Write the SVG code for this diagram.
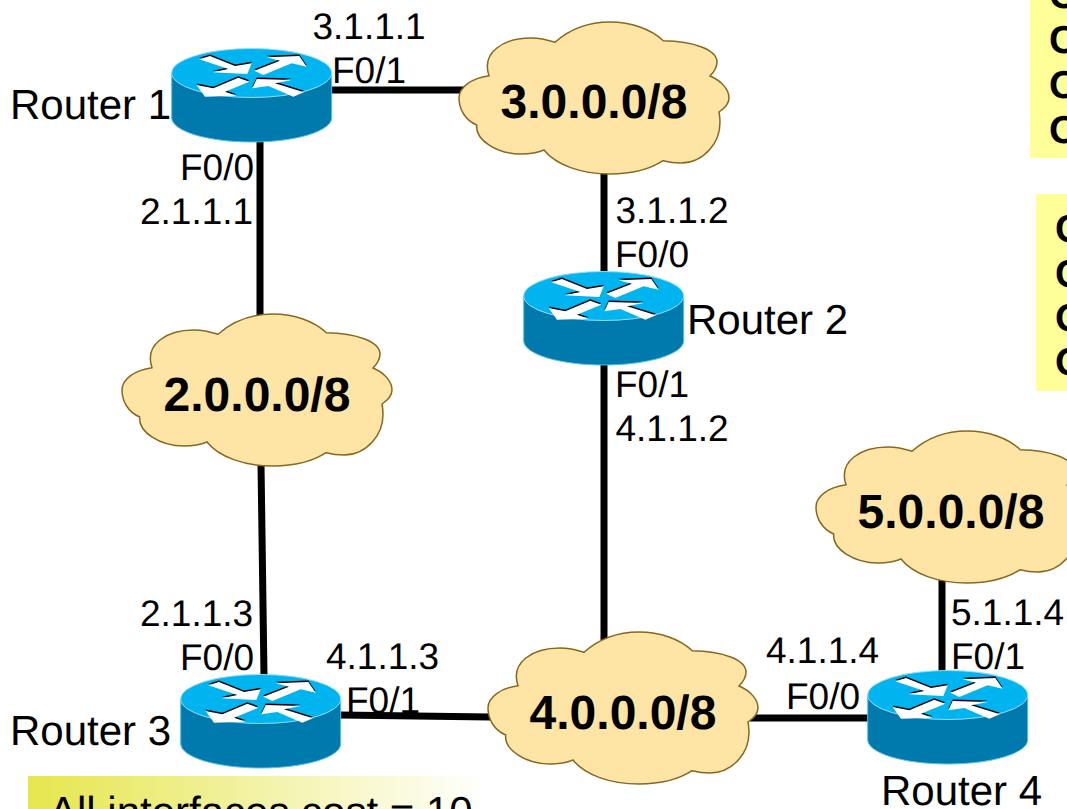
<svg xmlns="http://www.w3.org/2000/svg" width="1067" height="809" viewBox="0 0 1067 809">
<style>
text{font-family:"Liberation Sans",Arial,sans-serif;fill:#000;text-rendering:geometricPrecision}
.s{font-size:37px}
.r{font-size:42px}
.c{font-size:48px;font-weight:bold;text-anchor:middle}
.y{font-size:39px;font-weight:bold}
.l{fill:none;stroke:#000;stroke-width:7}
.cl{fill:#fee5a5;stroke:#86691f;stroke-width:1.5}
</style>
<defs>
<linearGradient id="g"><stop offset="0" stop-color="#e6e64d"/><stop offset="1" stop-color="#fff"/></linearGradient>
<path id="cloud" d="M96,20.3C112,6 132,0 151,0C172,0 192,7 204.3,18.7C235,19 258,28 258,40C258,46 255,50 251,54C263,59 270,68 270,76C270,81 266,86 260,90C266,122 242,141 222,141C215,141 209,140 204,138.7C190,148 170,152 151,152C122,152 97,143 85,128C78,131 70,132 62,132C38,132 16,118 17.7,103C6,98 0,87 0,76C0,65 13,56 30,53.7C22,30 45,16 72,16C80,16 89,18 96,20.3Z"/>
<g id="arrows">
<polygon points="39.3,29.3 50,26 75,36 91.7,33.3 87.3,44 52.7,42.3 68.3,39"/>
<polygon points="106.7,27.3 139.3,26 146.7,36.7 131.7,33.3 103.3,45 94.3,40.7 120,30.7"/>
<polygon points="36.7,55 53.3,58.3 78.3,47.7 89.3,51.7 65,61.7 76.7,65.7 45,66.7"/>
<polygon points="144,62.3 133.3,66.7 108.3,56 92.3,58.3 96.7,49 131.7,50 115,53.3"/>
</g>
<g id="router">
<path d="M11.7,43V87.7C11.7,101 47,112 91.7,112S171.7,101 171.7,87.7V43Z" fill="#0079ac" stroke="#5cc0e6" stroke-width="1"/>
<ellipse cx="91.7" cy="43" rx="80" ry="24.5" fill="#00b4f0" stroke="#9adcf5" stroke-width="1"/>
<use href="#arrows" y="-1.5" fill="#000"/>
<use href="#arrows" fill="#fff"/>
</g>
</defs>
<g id="notes">
<rect id="box1" x="1030" y="0" width="37" height="158" fill="#ffff99"/>
<rect id="box2" x="1036" y="194" width="31" height="197" fill="#ffff99"/>
<rect id="box3" x="28" y="776" width="457" height="33" fill="url(#g)"/>
<text class="r" x="49" y="826">All interfaces cost = 10</text>
<text class="y" x="1049" y="8">C</text>
<text class="y" x="1049" y="53">C</text>
<text class="y" x="1049" y="98">O</text>
<text class="y" x="1049" y="143">O</text>
<text class="y" x="1055" y="242">C</text>
<text class="y" x="1055" y="287">C</text>
<text class="y" x="1055" y="331">O</text>
<text class="y" x="1055" y="375">O</text>
</g>
<g id="connectors">
<path class="l" d="M331,90H465"/>
<path class="l" d="M260,140V316"/>
<path class="l" d="M604,172V272"/>
<path class="l" d="M604,362V640"/>
<path class="l" d="M261,464L264,676"/>
<path class="l" d="M340,715L490,717"/>
<path class="l" d="M750,718H870"/>
<path class="l" d="M942,580V672"/>
</g>
<g id="router1"><use href="#router" transform="translate(160,30)"/><text class="r" x="10" y="119">Router 1</text></g>
<g id="router2"><use href="#router" transform="translate(512,253)"/><text class="r" x="687" y="334">Router 2</text></g>
<g id="router3"><use href="#router" transform="translate(169,656)"/><text class="r" x="10" y="745">Router 3</text></g>
<g id="router4"><use href="#router" transform="translate(856,652)"/><text class="r" x="881" y="805">Router 4</text></g>
<g id="net3"><use href="#cloud" class="cl" transform="translate(459,22)"/><text class="c" x="594" y="118">3.0.0.0/8</text></g>
<g id="net2"><use href="#cloud" class="cl" transform="translate(122,314)"/><text class="c" x="257" y="411">2.0.0.0/8</text></g>
<g id="net4"><use href="#cloud" class="cl" transform="translate(488,632)"/><text class="c" x="623" y="729">4.0.0.0/8</text></g>
<g id="net5"><use href="#cloud" class="cl" transform="translate(816,431)"/><text class="c" x="951" y="528">5.0.0.0/8</text></g>
<g id="labels">
<text class="s" x="312.500" y="39">3.1.1.1</text>
<text class="s" x="332" y="83">F0/1</text>
<text class="s" x="180" y="180">F0/0</text>
<text class="s" x="140" y="224">2.1.1.1</text>
<text class="s" x="615.500" y="223">3.1.1.2</text>
<text class="s" x="615" y="267">F0/0</text>
<text class="s" x="615" y="397">F0/1</text>
<text class="s" x="615.500" y="441">4.1.1.2</text>
<text class="s" x="140" y="626">2.1.1.3</text>
<text class="s" x="180" y="670">F0/0</text>
<text class="s" x="326" y="669">4.1.1.3</text>
<text class="s" x="346" y="713">F0/1</text>
<text class="s" x="766" y="663">4.1.1.4</text>
<text class="s" x="786" y="709">F0/0</text>
<text class="s" x="951" y="625">5.1.1.4</text>
<text class="s" x="951" y="669">F0/1</text>
</g>
</svg>
